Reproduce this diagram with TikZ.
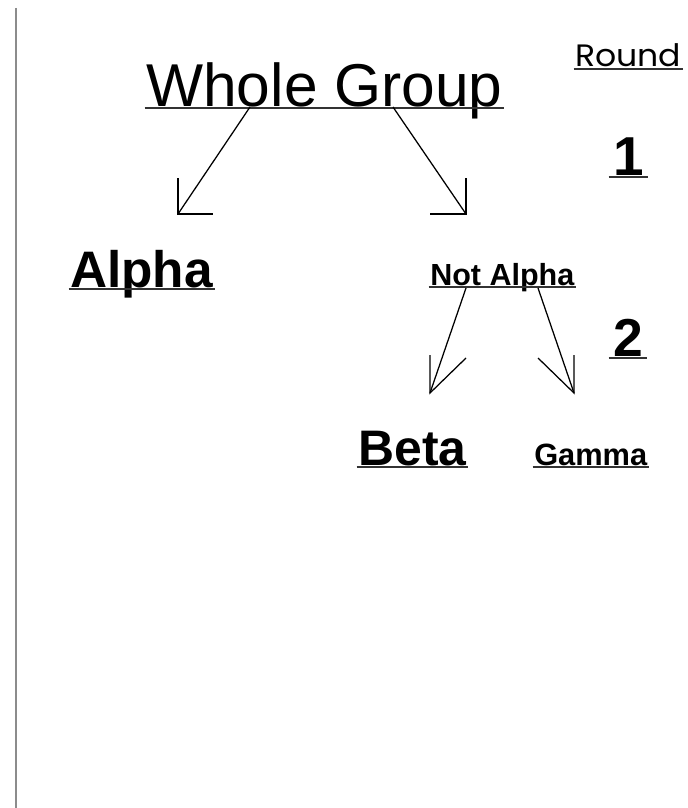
\documentclass[tikz,border=0pt]{standalone}
\usepackage{fontspec}
\setmainfont{Liberation Sans}
\newfontfamily\roundfont[FakeStretch=1.07]{Poppins}
\newcommand{\openhead}[3]% tip, first arm, second arm
{(#1) ++(#2) -- (#1) -- ++(#3)
}
\tikzset{
	lbl/.style={inner sep=0pt, anchor=base west},
	uline/.style={line width=1.4pt, black!80},
	conn/.style={line width=0.9pt}
}

\begin{document}
\begin{tikzpicture}[x=0.025cm, y=-0.025cm]
	\useasboundingbox (0,0) rectangle (687,808);
	\draw[line width=1.3pt, black!45] (16,8) -- (16,808);
	\node[lbl, font=\fontsize{43}{50}\selectfont] (whole) at (146,106) {Whole Group};
	\node[lbl, font=\roundfont\fontsize{22}{26}\selectfont] (round) at (575,67) {Round};
	\node[lbl, inner xsep=2pt, font=\bfseries\fontsize{39}{46}\selectfont] (one) at (610,175) {1};
	\node[lbl, font=\bfseries\fontsize{36.5}{44}\selectfont] (alpha) at (70,287) {Alpha};
	\node[lbl, font=\bfseries\fontsize{21.7}{26}\selectfont] (notalpha) at (430,285) {Not Alpha};
	\node[lbl, inner xsep=2pt, font=\bfseries\fontsize{38}{46}\selectfont] (two) at (610,356) {2};
	\node[lbl, font=\bfseries\fontsize{35.5}{44}\selectfont] (beta) at (358,465) {Beta};
	\node[lbl, font=\bfseries\fontsize{21.9}{26}\selectfont] (gamma) at (534,465) {Gamma};
	% underlines
	\foreach \n in {whole,round,one,alpha,notalpha,two,beta,gamma}
		\draw[uline] ([shift={(-1pt,-1.5pt)}]\n.base west) -- ([shift={(1pt,-1.5pt)}]\n.base east);
	% round 1
	\coordinate (wgL) at (250,107);
	\coordinate (wgR) at (393,107);
	\coordinate (tipA) at (178,214);
	\coordinate (tipN) at (466,214);
	\draw[conn] (wgL) -- (tipA);
	\draw[conn] \openhead{tipA}{0,-36}{35,0};
	\draw[conn] (wgR) -- (tipN);
	\draw[conn] \openhead{tipN}{0,-36}{-36,0};
	% round 2
	\coordinate (naL) at (466,288);
	\coordinate (naR) at (538,288);
	\coordinate (tipB) at (430,393);
	\coordinate (tipG) at (574,393);
	\draw[conn] (naL) -- (tipB);
	\draw[conn] \openhead{tipB}{0,-38}{36,-35};
	\draw[conn] (naR) -- (tipG);
	\draw[conn] \openhead{tipG}{0,-38}{-36,-35};
\end{tikzpicture}
\end{document}
